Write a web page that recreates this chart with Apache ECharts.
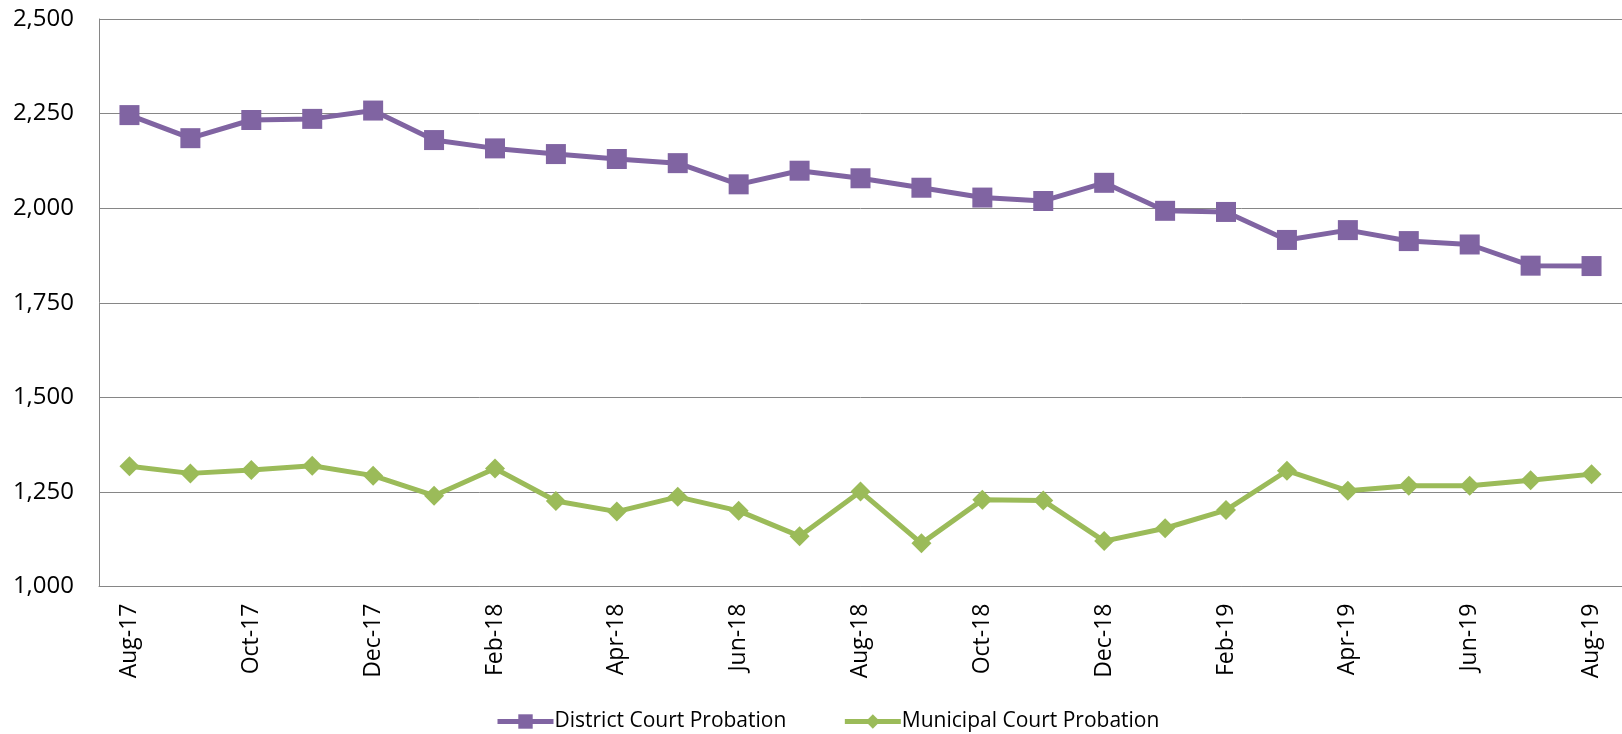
<!DOCTYPE html>
<html>
<head>
<meta charset="utf-8">
<script src="https://cdn.jsdelivr.net/npm/echarts@6/dist/echarts.min.js"></script>
<style>
html,body{margin:0;padding:0;background:#fff;}
#chart{width:1622px;height:734px;}
</style>
</head>
<body>
<div id="chart"></div>
<script>
const categories = ['Aug-17','Sep-17','Oct-17','Nov-17','Dec-17','Jan-18','Feb-18','Mar-18','Apr-18','May-18','Jun-18','Jul-18','Aug-18','Sep-18','Oct-18','Nov-18','Dec-18','Jan-19','Feb-19','Mar-19','Apr-19','May-19','Jun-19','Jul-19','Aug-19'];
const districtCourt = [2246,2185,2233,2236,2258,2180,2158,2143,2130,2119,2063,2099,2079,2054,2028,2019,2067,1993,1990,1916,1942,1913,1904,1848,1847];
const municipalCourt = [1318,1299,1308,1319,1293,1240,1312,1226,1198,1237,1200,1133,1251,1114,1229,1227,1120,1154,1202,1306,1253,1266,1266,1281,1297];
const seriesNames = ['District Court Probation','Municipal Court Probation'];
const yTicks = {min:1000, max:2500, interval:250};

const font = 'Open Sans';
const chart = echarts.init(document.getElementById('chart'));
chart.setOption({
  animation:false,
  backgroundColor:'#ffffff',
  grid:{left:99, top:19, width:1524, height:567.5, containLabel:false},
  legend:{
    data:seriesNames,
    left:490, top:706,
    itemWidth:56, itemHeight:18, itemGap:56,
    lineStyle:{width:5},
    textStyle:{fontFamily:font, fontSize:21, color:'#000', padding:[0,0,0,-4]}
  },
  xAxis:{
    type:'category', data:categories, boundaryGap:true,
    axisLine:{show:true, lineStyle:{color:'#868686', width:1}},
    axisTick:{show:false},
    axisLabel:{interval:1, rotate:90, margin:17, fontFamily:font, fontSize:23, color:'#000'},
    splitLine:{show:false}
  },
  yAxis:{
    type:'value', min:yTicks.min, max:yTicks.max, interval:yTicks.interval,
    axisLine:{show:true, lineStyle:{color:'#868686', width:1}},
    axisTick:{show:false},
    axisLabel:{margin:25, fontFamily:font, fontSize:24, color:'#000',
      formatter:v=>v.toLocaleString('en-US')},
    splitLine:{show:true, lineStyle:{color:'#868686', width:1}}
  },
  series:[
    {name:seriesNames[0], type:'line', data:districtCourt,
      symbol:'rect', symbolSize:20,
      lineStyle:{color:'#8064A2', width:5},
      itemStyle:{color:'#8064A2'}},
    {name:seriesNames[1], type:'line', data:municipalCourt,
      symbol:'diamond', symbolSize:20,
      lineStyle:{color:'#9BBB59', width:5},
      itemStyle:{color:'#9BBB59'}}
  ]
});
</script>
</body>
</html>
